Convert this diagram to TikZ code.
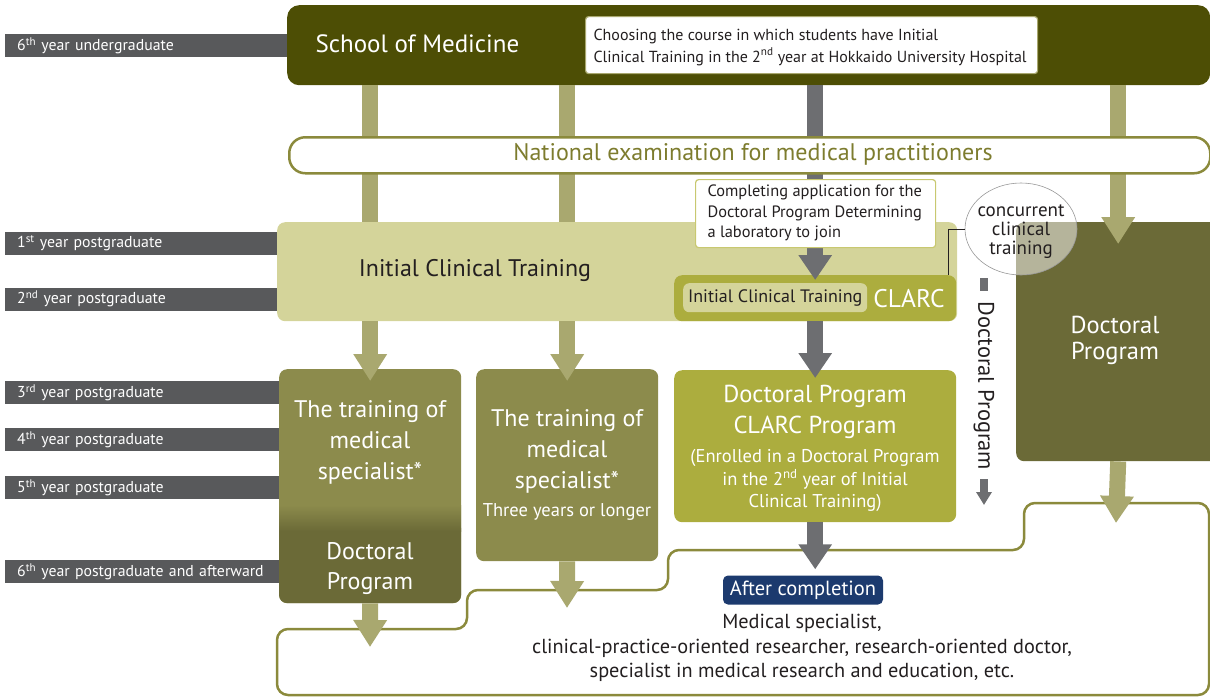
\documentclass[tikz,border=0pt]{standalone}
\usepackage{fontspec}
\setmainfont{PT Sans}
\usetikzlibrary{arrows.meta,calc,shapes.geometric}
\definecolor{labelgray}{HTML}{58595B}
\definecolor{schoolc}{HTML}{4D4E05}
\definecolor{tanc}{HTML}{A9A86F}
\definecolor{arrgray}{HTML}{6D6E71}
\definecolor{olivel}{HTML}{8B8A3C}
\definecolor{examtext}{HTML}{7D7C2E}
\definecolor{ictc}{HTML}{D4D49A}
\definecolor{clarcc}{HTML}{ACAD3E}
\definecolor{specc}{HTML}{8C8B4C}
\definecolor{docc}{HTML}{6B6A37}
\definecolor{navyc}{HTML}{1C3A6E}
\definecolor{textdark}{HTML}{231F20}
\definecolor{complbord}{HTML}{C8C870}
\tikzset{
  yearbar/.style={fill=labelgray, text=white, anchor=west, minimum height=23pt,
    inner xsep=12pt, inner ysep=0pt, text width=271pt, align=left,
    font=\fontsize{15.8}{17}\selectfont},
  box/.style={anchor=north west, inner sep=0pt, rounded corners=8pt},
  whitetxt/.style={text=white, align=center},
  tanbar/.style={draw=tanc, line width=16pt},
  tanarrow/.style={draw=tanc, line width=16pt, -{Triangle[width=32pt,length=27pt]}},
  grayarrow/.style={draw=arrgray, line width=16pt, -{Triangle[width=32pt,length=25pt]}},
}
\begin{document}
\begin{tikzpicture}[x=1pt,y=-1pt]
\useasboundingbox (0,0) rectangle (1210,697);

% year labels
\node[yearbar] (y6u) at (5,45.5) {6\textsuperscript{th} year undergraduate};
\node[yearbar] (y1p) at (5,243) {1\textsuperscript{st} year postgraduate};
\node[yearbar] (y2p) at (5,299) {2\textsuperscript{nd} year postgraduate};
\node[yearbar] (y3p) at (5,392.5) {3\textsuperscript{rd} year postgraduate};
\node[yearbar] (y4p) at (5,439.5) {4\textsuperscript{th} year postgraduate};
\node[yearbar] (y5p) at (5,487.5) {5\textsuperscript{th} year postgraduate};
\node[yearbar] (y6p) at (5,571.5) {6\textsuperscript{th} year postgraduate and afterward};

% outcome outline
\draw[olivel, line width=2.5pt, fill=white, rounded corners=11pt]
  (1209,503) -- (1024,503) -- (1024,550) -- (668,550) -- (668,590) -- (467,590)
  -- (467,629) -- (277,629) -- (277,695) -- (1209,695) -- cycle;

% school box
\node[box, fill=schoolc, rounded corners=12pt, minimum width=923pt, minimum height=80pt] (school) at (287,5) {};
\node[text=white, anchor=west, font=\fontsize{25}{28}\selectfont] (schooltxt) at (312,44) {School of Medicine};

% main boxes
\node[box, fill=ictc, minimum width=680pt, minimum height=99pt] (ict) at (277,222) {};
\node[text=textdark, font=\fontsize{24}{27}\selectfont] (icttxt) at (475,270) {Initial Clinical Training};
\node[box, fill=clarcc, minimum width=282pt, minimum height=46pt] (clarc) at (674,275) {};
\node[box, fill=ictc, rounded corners=6pt, minimum width=184pt, minimum height=29pt,
  anchor=north west, text=textdark, font=\fontsize{18}{20}\selectfont] (clarcict) at (683,283) {Initial Clinical Training};
\node[text=white, font=\fontsize{25.5}{28}\selectfont] (clarctxt) at (909,298.5) {CLARC};

\node[box, fill=docc, minimum width=204pt, minimum height=239pt] (docr) at (1016,222) {};
\node[whitetxt, font=\fontsize{24.5}{26}\selectfont] (docrtxt) at (1115,340) {Doctoral\\Program};

% column 1 with gradient
\node[box, fill=specc, minimum width=182pt, minimum height=234pt] (col1) at (279,369) {};
\fill[docc, rounded corners=8pt] (279,520) rectangle (461,603);
\shade[top color=specc, bottom color=docc] (279,505) rectangle (461,531);
\node[whitetxt, font=\fontsize{24}{31}\selectfont] (col1txt) at (370,442) {The training of\\medical\\specialist*};
\node[whitetxt, font=\fontsize{24}{30}\selectfont] (col1doc) at (370,569) {Doctoral\\Program};

\node[box, fill=specc, minimum width=182pt, minimum height=192pt] (col2) at (476,369) {};
\node[whitetxt, font=\fontsize{24}{31}\selectfont] (col2txt) at (567,451) {The training of\\medical\\specialist*};
\node[whitetxt, font=\fontsize{18.5}{20}\selectfont] (col2yrs) at (567,512) {Three years or longer};

\node[box, fill=clarcc, minimum width=282pt, minimum height=152pt] (col3) at (674,370) {};
\node[whitetxt, font=\fontsize{24.5}{31}\selectfont] (col3txt) at (815,411.5) {Doctoral Program\\CLARC Program};
\node[whitetxt, font=\fontsize{18.5}{22.5}\selectfont] (col3sub) at (815,480.5) {(Enrolled in a Doctoral Program\\in the 2\textsuperscript{nd} year of Initial\\Clinical Training)};

% top bars behind exam box
\draw[tanbar] (school.south -| col1.north) -- (ict.north -| col1.north);
\draw[tanbar] (school.south -| col2.north) -- (ict.north -| col2.north);
\draw[tanbar] (school.south -| docr.north) -- (docr.north);
\draw[grayarrow] (school.south -| clarc.north) -- ([yshift=-5pt]clarc.north);

% exam box
\node[box, fill=white, draw=olivel, line width=2.5pt, rounded corners=16pt,
  minimum width=921pt, minimum height=36pt] (exam) at (288,136) {};
\node[text=examtext, font=\fontsize{24}{26}\selectfont] (examtxt) at (753,154) {National examination for medical practitioners};

% choosing box
\node[box, fill=white, draw=tanc, line width=1.2pt, rounded corners=3pt,
  minimum width=452pt, minimum height=57pt] (choose) at (585,16) {};
\node[anchor=west, align=left, text=textdark, font=\fontsize{16}{22}\selectfont] (choosetxt) at (590,47)
  {Choosing the course in which students have Initial\\Clinical Training in the 2\textsuperscript{nd} year at Hokkaido University Hospital};

% completing box
\node[box, fill=white, draw=complbord, line width=1.2pt, rounded corners=3pt,
  minimum width=240pt, minimum height=68pt] (compl) at (695,179) {};
\node[anchor=west, align=left, text=textdark, font=\fontsize{16.4}{20.5}\selectfont] (compltxt) at (704,213)
  {Completing application for the\\Doctoral Program Determining\\a laboratory to join};

% right arrow into doctoral box
\draw[tanarrow] (exam.south -| docr.north) -- ([yshift=-22pt]docr.north);

% concurrent circle
\node[ellipse, draw=gray!80, line width=0.6pt, fill=white, fill opacity=0.5,
  minimum width=112pt, minimum height=92pt, inner sep=0pt] (conc) at (1021,229) {};
\node[align=center, text=textdark, font=\fontsize{19}{19}\selectfont] (conctxt) at (1021,232) {concurrent\\clinical\\training};
\draw[textdark, line width=0.8pt] (conc.west) -| ([xshift=-8pt]clarc.north east);

% vertical doctoral program marker
\node[rotate=-90, text=textdark, font=\fontsize{22.5}{24}\selectfont] (vdoc) at (984,386) {Doctoral Program};
\coordinate (vtopa) at (984,278);
\coordinate (vtopb) at (984,291);
\coordinate (vbota) at (984,479);
\coordinate (vbotb) at (984,505);
\draw[arrgray, line width=8pt] (vtopa) -- (vtopb);
\draw[arrgray, line width=8pt, -{Triangle[width=15pt,length=13pt]}] (vbota) -- (vbotb);

% lower arrows
\draw[tanarrow] (ict.south -| col1.north) -- ([yshift=-12pt]col1.north);
\draw[tanarrow] (ict.south -| col2.north) -- ([yshift=-12pt]col2.north);
\draw[grayarrow] (clarc.south) -- ([yshift=-8pt]col3.north);

% after completion
\node[fill=navyc, rounded corners=5pt, text=white, font=\fontsize{20.5}{22}\selectfont,
  minimum width=160pt, minimum height=29pt, inner sep=0pt] (after) at (803,590) {After completion};
\draw[grayarrow] (col3.south) -- ([yshift=6pt]col3.south |- after.north);

\node[align=center, text=textdark, font=\fontsize{20.3}{24.5}\selectfont] (outcome) at (802,648)
  {Medical specialist,\\clinical-practice-oriented researcher, research-oriented doctor,\\specialist in medical research and education, etc.};

\coordinate (col1end) at (370,647);
\coordinate (col2end) at (567,608);
\coordinate (docrend) at (1116,523);
\draw[tanarrow] (col1.south) -- (col1end);
\draw[tanarrow] (col2.south) -- (col2end);
\draw[tanarrow] (docr.south) -- (docrend);
\end{tikzpicture}
\end{document}
